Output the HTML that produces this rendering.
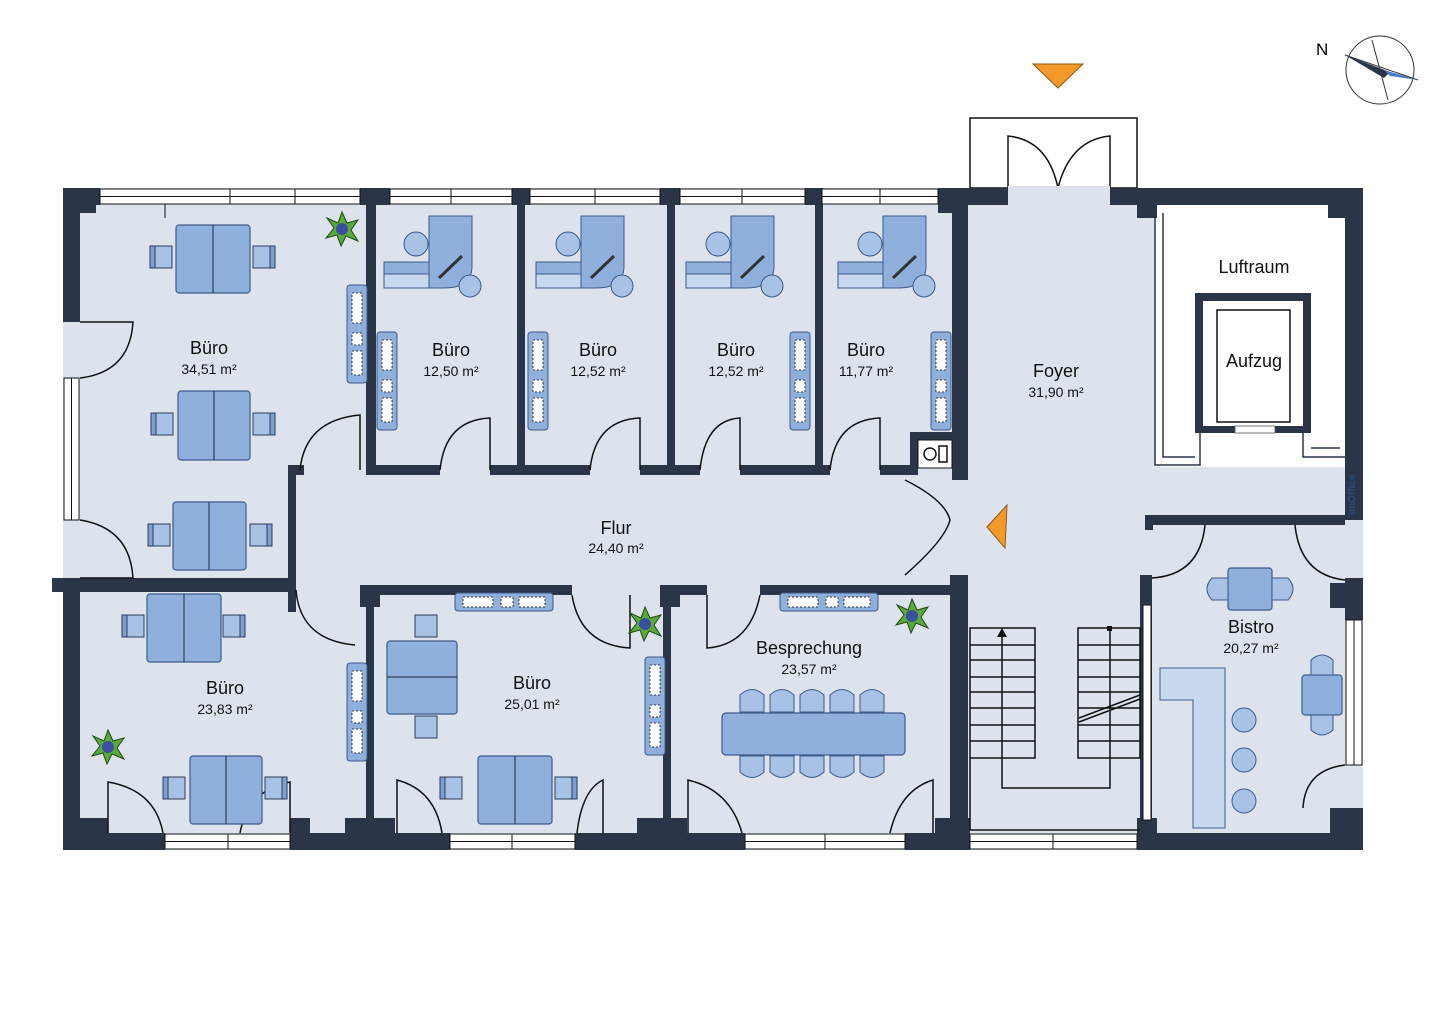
<!DOCTYPE html>
<html><head><meta charset="utf-8"><style>
html,body{margin:0;padding:0;background:#fff;}
svg{display:block;font-family:"Liberation Sans",sans-serif;}
</style></head><body>
<svg width="1440" height="1018" viewBox="0 0 1440 1018" xmlns="http://www.w3.org/2000/svg">
<defs>
<g id="chairL"><rect x="0" y="0" width="22" height="22" fill="#a8c2e6" stroke="#2d3c5a" stroke-width="1"/><rect x="0" y="0" width="5" height="22" fill="#7d9fd1" stroke="#2d3c5a" stroke-width="1"/></g>
<g id="chairR"><rect x="0" y="0" width="22" height="22" fill="#a8c2e6" stroke="#2d3c5a" stroke-width="1"/><rect x="17" y="0" width="5" height="22" fill="#7d9fd1" stroke="#2d3c5a" stroke-width="1"/></g>
<g id="plant"><polygon points="0,-17 5,-6 16,-9 9,1 16,12 4,7 -1,17 -5,6 -16,9 -8,-1 -15,-11 -4,-6" fill="#5aa93a" stroke="#1e4a16" stroke-width="1"/><circle r="6" fill="#3a4fa0"/></g>
<g id="shelfV"><rect x="0" y="0" width="20" height="98" rx="3" fill="#8fb0dc" stroke="#3c5a8a"/><rect x="5" y="8" width="10" height="30" fill="#fff" stroke="#333" stroke-dasharray="2 2"/><rect x="5" y="48" width="10" height="12" fill="#fff" stroke="#333" stroke-dasharray="2 2"/><rect x="5" y="66" width="10" height="24" fill="#fff" stroke="#333" stroke-dasharray="2 2"/></g>
<g id="shelfH"><rect x="0" y="0" width="98" height="18" rx="3" fill="#8fb0dc" stroke="#3c5a8a"/><rect x="8" y="4" width="30" height="10" fill="#fff" stroke="#333" stroke-dasharray="2 2"/><rect x="46" y="4" width="12" height="10" fill="#fff" stroke="#333" stroke-dasharray="2 2"/><rect x="64" y="4" width="26" height="10" fill="#fff" stroke="#333" stroke-dasharray="2 2"/></g>
<g id="desk"><rect x="0" y="46" width="56" height="26" fill="#c8d8ee" stroke="#3c5a8a"/><rect x="0" y="46" width="56" height="12" fill="#8fb0dc" stroke="#3c5a8a"/><path d="M45,0 H88 V50 Q88,72 60,72 H45 Z" fill="#8fb0dc" stroke="#3c5a8a"/><line x1="55" y1="62" x2="78" y2="40" stroke="#333" stroke-width="3"/><circle cx="32" cy="28" r="12" fill="#a8c2e6" stroke="#3c5a8a"/><circle cx="86" cy="70" r="11" fill="#a8c2e6" stroke="#3c5a8a"/></g>
<g id="win"><rect x="0" y="0" width="1" height="17" fill="#fff"/></g>
</defs>
<rect width="1440" height="1018" fill="#fff"/>
<!-- floor -->
<rect x="63" y="188" width="1300" height="662" fill="#dde3ec"/>
<rect x="70" y="322" width="12" height="256" fill="#dde3ec"/>
<!-- luftraum -->
<rect x="1155" y="205" width="190" height="262" fill="#fff"/>
<path d="M1155,213 V465 H1200 V433 M1345,457 H1303 V433" fill="none" stroke="#2b3548" stroke-width="1.5"/>
<path d="M1163,213 V457 H1195 M1340,448 H1311" fill="none" stroke="#2b3548" stroke-width="1.5"/>
<rect x="1195" y="293" width="116" height="140" fill="#2b3548"/>
<rect x="1203" y="301" width="100" height="125" fill="#fff"/>
<rect x="1217" y="310" width="73" height="112" fill="#fff" stroke="#111" stroke-width="1.5"/>
<rect x="1235" y="426" width="40" height="7" fill="#fff" stroke="#555" stroke-width="0.8"/>
<!-- entry -->
<rect x="970" y="118" width="167" height="70" fill="#fff" stroke="#111" stroke-width="1.5"/>
<path d="M1008,188 V136 Q1048,140 1058,188 M1110,188 V136 Q1070,140 1058,188" fill="none" stroke="#111" stroke-width="1.5"/>
<rect x="1008" y="186" width="102" height="20" fill="#dde3ec"/>
<g fill="#2b3548">
<!-- top wall -->
<rect x="63" y="188" width="37" height="17"/><rect x="63" y="188" width="33" height="25"/>
<rect x="360" y="188" width="30" height="17"/><rect x="512" y="188" width="18" height="17"/>
<rect x="660" y="188" width="20" height="17"/><rect x="805" y="188" width="17" height="17"/>
<rect x="938" y="188" width="70" height="17"/><rect x="1110" y="188" width="253" height="17"/>
<rect x="938" y="188" width="30" height="25"/><rect x="1137" y="188" width="20" height="30"/><rect x="1328" y="188" width="35" height="30"/>
<!-- left wall -->
<rect x="63" y="188" width="17" height="134"/>
<rect x="63" y="578" width="17" height="272"/>
<!-- right wall -->
<rect x="1345" y="188" width="18" height="332"/>
<rect x="1345" y="578" width="18" height="42"/><rect x="1330" y="583" width="33" height="25"/>
<rect x="1345" y="808" width="18" height="42"/><rect x="1330" y="808" width="33" height="25"/>
<!-- bottom wall -->
<rect x="63" y="833" width="102" height="17"/><rect x="63" y="818" width="45" height="32"/>
<rect x="290" y="833" width="160" height="17"/><rect x="290" y="818" width="20" height="32"/><rect x="345" y="818" width="50" height="32"/>
<rect x="575" y="833" width="170" height="17"/><rect x="637" y="818" width="50" height="32"/>
<rect x="905" y="833" width="65" height="17"/><rect x="935" y="818" width="35" height="32"/>
<rect x="1137" y="833" width="226" height="17"/><rect x="1137" y="818" width="20" height="32"/>
<!-- interior verticals -->
<rect x="366" y="188" width="10" height="287"/>
<rect x="517" y="188" width="8" height="287"/>
<rect x="667" y="188" width="8" height="287"/>
<rect x="815" y="188" width="8" height="287"/>
<rect x="952" y="188" width="16" height="292"/>
<rect x="910" y="432" width="58" height="8"/><rect x="910" y="432" width="8" height="43"/>
<rect x="288" y="465" width="8" height="147"/>
<rect x="288" y="465" width="16" height="10"/>
<rect x="366" y="590" width="8" height="260"/>
<rect x="663" y="590" width="8" height="260"/>
<rect x="950" y="575" width="18" height="275"/>
<rect x="1140" y="575" width="12" height="275"/>
<!-- interior horizontals -->
<rect x="366" y="465" width="74" height="10"/><rect x="490" y="465" width="100" height="10"/>
<rect x="640" y="465" width="60" height="10"/><rect x="740" y="465" width="90" height="10"/>
<rect x="880" y="465" width="38" height="10"/>
<rect x="63" y="578" width="233" height="14"/><rect x="52" y="578" width="28" height="14"/>
<rect x="360" y="585" width="212" height="10"/><rect x="360" y="585" width="20" height="22"/>
<rect x="677" y="585" width="30" height="10"/><rect x="760" y="585" width="208" height="10"/>
<rect x="660" y="585" width="20" height="22"/>
<rect x="1145" y="515" width="200" height="10"/><rect x="1145" y="515" width="8" height="15"/>
</g>
<!-- windows -->
<g fill="#fff" stroke="#111" stroke-width="1">
<rect x="100" y="189" width="260" height="15"/><rect x="390" y="189" width="122" height="15"/>
<rect x="530" y="189" width="130" height="15"/><rect x="680" y="189" width="125" height="15"/>
<rect x="822" y="189" width="116" height="15"/>
<rect x="64" y="378" width="15" height="142"/>
<rect x="165" y="834" width="125" height="15"/><rect x="450" y="834" width="125" height="15"/>
<rect x="745" y="834" width="160" height="15"/><rect x="970" y="834" width="167" height="15"/>
<rect x="1346" y="620" width="16" height="145"/><rect x="1143" y="605" width="8" height="215"/>
</g>
<g stroke="#111" stroke-width="1" fill="none">
<path d="M100,196.5H360M390,196.5H512M530,196.5H660M680,196.5H805M822,196.5H938M165,841.5H290M450,841.5H575M745,841.5H905M970,841.5H1137M71.5,378V520M1354,620V765"/>
<path d="M165,218V204M230,189V204M295,189V204M451,189V204M595,189V204M742,189V204M880,189V204M228,834V849M512,834V849M825,834V849M1053,834V849"/>
</g>
<!-- door arcs -->
<g fill="none" stroke="#111" stroke-width="1.5">
<path d="M80,322 H133 Q130,372 80,378"/>
<path d="M80,578 H133 Q130,528 80,520"/>
<path d="M360,470 V415 Q305,420 300,470"/>
<path d="M440,470 Q445,420 490,418 V470"/>
<path d="M590,470 Q595,420 640,418 V470"/>
<path d="M700,470 Q705,420 740,418 V470"/>
<path d="M830,470 Q835,420 880,418 V470"/>
<path d="M296,590 Q300,640 355,645"/>
<path d="M572,595 Q580,645 630,648 V595"/>
<path d="M707,595 V648 Q750,645 760,595"/>
<path d="M905,480 Q945,500 950,520 Q945,540 905,575"/>
<path d="M1152,578 Q1200,575 1205,525 M1295,525 Q1300,575 1345,580"/>
<path d="M1303,808 Q1305,770 1345,765"/>
<path d="M108,833 V782 Q155,790 163,833 M290,833 V782 Q248,790 240,833"/>
<path d="M397,833 V780 Q435,790 442,833 M603,833 V780 Q582,790 577,833"/>
<path d="M688,833 V780 Q730,790 742,833 M933,833 V780 Q900,790 890,833"/>
</g>
<!-- stairs -->
<g fill="none" stroke="#111" stroke-width="1.5">
<rect x="970" y="628" width="65" height="130"/><rect x="1078" y="628" width="62" height="130"/>
<path d="M970,645H1035M970,660H1035M970,677H1035M970,692H1035M970,708H1035M970,725H1035M970,741H1035"/>
<path d="M1078,645H1140M1078,660H1140M1078,677H1140M1078,692H1140M1078,708H1140M1078,725H1140M1078,741H1140"/>
<path d="M1002,636V788H1110V630M970,758V830H1140"/>
<path d="M1079,718L1140,695M1079,722L1140,699"/>
</g>
<polygon points="1002,628 997,637 1007,637" fill="#111"/><rect x="1107" y="626" width="5" height="5" fill="#111"/>
<!-- furniture -->
<g fill="#8fb0dc" stroke="#3c5a8a" stroke-width="1.2">
<rect x="176" y="225" width="74" height="68" rx="3"/><rect x="178" y="391" width="72" height="69" rx="3"/>
<rect x="173" y="502" width="73" height="68" rx="3"/><rect x="147" y="594" width="74" height="68" rx="3"/>
<rect x="190" y="756" width="72" height="68" rx="3"/><rect x="387" y="641" width="70" height="73" rx="3"/>
<rect x="478" y="756" width="74" height="68" rx="3"/>
<rect x="722" y="713" width="183" height="42" rx="4"/>
<rect x="1228" y="568" width="44" height="42" rx="3"/><rect x="1302" y="675" width="40" height="40" rx="3"/>
</g>
<g stroke="#1e2a44" stroke-width="1"><path d="M213,225V293M214,391V460M209,502V570M184,594V662M226,756V824M387,677H457M515,756V824"/></g>
<use href="#chairL" x="150" y="246"/><use href="#chairR" x="253" y="246"/>
<use href="#chairL" x="151" y="413"/><use href="#chairR" x="253" y="413"/>
<use href="#chairL" x="148" y="524"/><use href="#chairR" x="250" y="524"/>
<use href="#chairL" x="122" y="615"/><use href="#chairR" x="223" y="615"/>
<use href="#chairL" x="163" y="777"/><use href="#chairR" x="265" y="777"/>
<use href="#chairL" x="440" y="777"/><use href="#chairR" x="555" y="777"/>
<rect x="415" y="615" width="22" height="22" fill="#a8c2e6" stroke="#2d3c5a"/><rect x="415" y="716" width="22" height="22" fill="#a8c2e6" stroke="#2d3c5a"/>
<g fill="#a8c2e6" stroke="#3c5a8a">
<path d="M740,712 V695 Q752,684 764,695 V712Z M770,712 V695 Q782,684 794,695 V712Z M800,712 V695 Q812,684 824,695 V712Z M830,712 V695 Q842,684 854,695 V712Z M860,712 V695 Q872,684 884,695 V712Z"/>
<path d="M740,756 V772 Q752,783 764,772 V756Z M770,756 V772 Q782,783 794,772 V756Z M800,756 V772 Q812,783 824,772 V756Z M830,756 V772 Q842,783 854,772 V756Z M860,756 V772 Q872,783 884,772 V756Z"/>
<path d="M1228,578 H1212 Q1202,589 1212,600 H1228Z M1272,578 H1288 Q1298,589 1288,600 H1272Z"/>
<path d="M1311,675 V660 Q1322,650 1333,660 V675Z M1311,715 V730 Q1322,740 1333,730 V715Z"/>
<circle cx="1244" cy="720" r="12"/><circle cx="1244" cy="760" r="12"/><circle cx="1244" cy="801" r="12"/>
</g>
<path d="M1160,668 H1225 V828 H1193 V700 H1160 Z" fill="#c8d8ee" stroke="#3c5a8a"/>
<use href="#shelfV" x="347" y="285"/><use href="#shelfV" x="377" y="332"/>
<use href="#shelfV" x="528" y="332"/><use href="#shelfV" x="790" y="332"/>
<use href="#shelfV" x="931" y="332"/><use href="#shelfV" x="347" y="663"/>
<use href="#shelfV" x="645" y="657"/>
<use href="#shelfH" x="455" y="593"/><use href="#shelfH" x="780" y="593"/>
<use href="#desk" x="384" y="216"/><use href="#desk" x="536" y="216"/>
<use href="#desk" x="686" y="216"/><use href="#desk" x="838" y="216"/>
<rect x="918" y="440" width="34" height="28" fill="#fff" stroke="#111"/><circle cx="930" cy="454" r="6" fill="none" stroke="#111" stroke-width="1.5"/><rect x="939" y="446" width="8" height="16" fill="none" stroke="#111" stroke-width="1.5"/>
<use href="#plant" x="342" y="229"/><use href="#plant" x="108" y="747"/>
<use href="#plant" x="645" y="624"/><use href="#plant" x="912" y="616"/>
<!-- orange markers -->
<polygon points="1033,64 1083,64 1058,88" fill="#f39a2a" stroke="#8a5a10"/>
<polygon points="987,527 1007,505 1005,548" fill="#f39a2a" stroke="#8a5a10"/>
<!-- compass -->
<g stroke="#333" fill="none" stroke-width="1"><circle cx="1380" cy="70" r="34"/><path d="M1345,55L1418,80M1372,40L1388,100"/></g>
<polygon points="1345,55 1390,72 1384,78" fill="#2b3548"/><polygon points="1418,80 1384,70 1390,76" fill="#4a7ad0"/>
<text x="1316" y="55" font-size="17">N</text>
<text x="1355" y="515" font-size="10" font-weight="bold" fill="#2b4a80" transform="rotate(-90 1355 515)">onOffice</text>
<!-- labels -->
<g font-size="18" fill="#111" text-anchor="middle">
<text x="209" y="354">Büro</text><text x="451" y="356">Büro</text><text x="598" y="356">Büro</text>
<text x="736" y="356">Büro</text><text x="866" y="356">Büro</text><text x="1056" y="377">Foyer</text>
<text x="1254" y="273">Luftraum</text><text x="1254" y="367">Aufzug</text>
<text x="616" y="534">Flur</text><text x="225" y="694">Büro</text><text x="532" y="689">Büro</text>
<text x="809" y="654">Besprechung</text><text x="1251" y="633">Bistro</text>
</g>
<g font-size="14" fill="#111" text-anchor="middle">
<text x="209" y="374">34,51 m²</text><text x="451" y="376">12,50 m²</text><text x="598" y="376">12,52 m²</text>
<text x="736" y="376">12,52 m²</text><text x="866" y="376">11,77 m²</text><text x="1056" y="397">31,90 m²</text>
<text x="616" y="553">24,40 m²</text><text x="225" y="714">23,83 m²</text><text x="532" y="709">25,01 m²</text>
<text x="809" y="674">23,57 m²</text><text x="1251" y="653">20,27 m²</text>
</g>
</svg>
</body></html>
